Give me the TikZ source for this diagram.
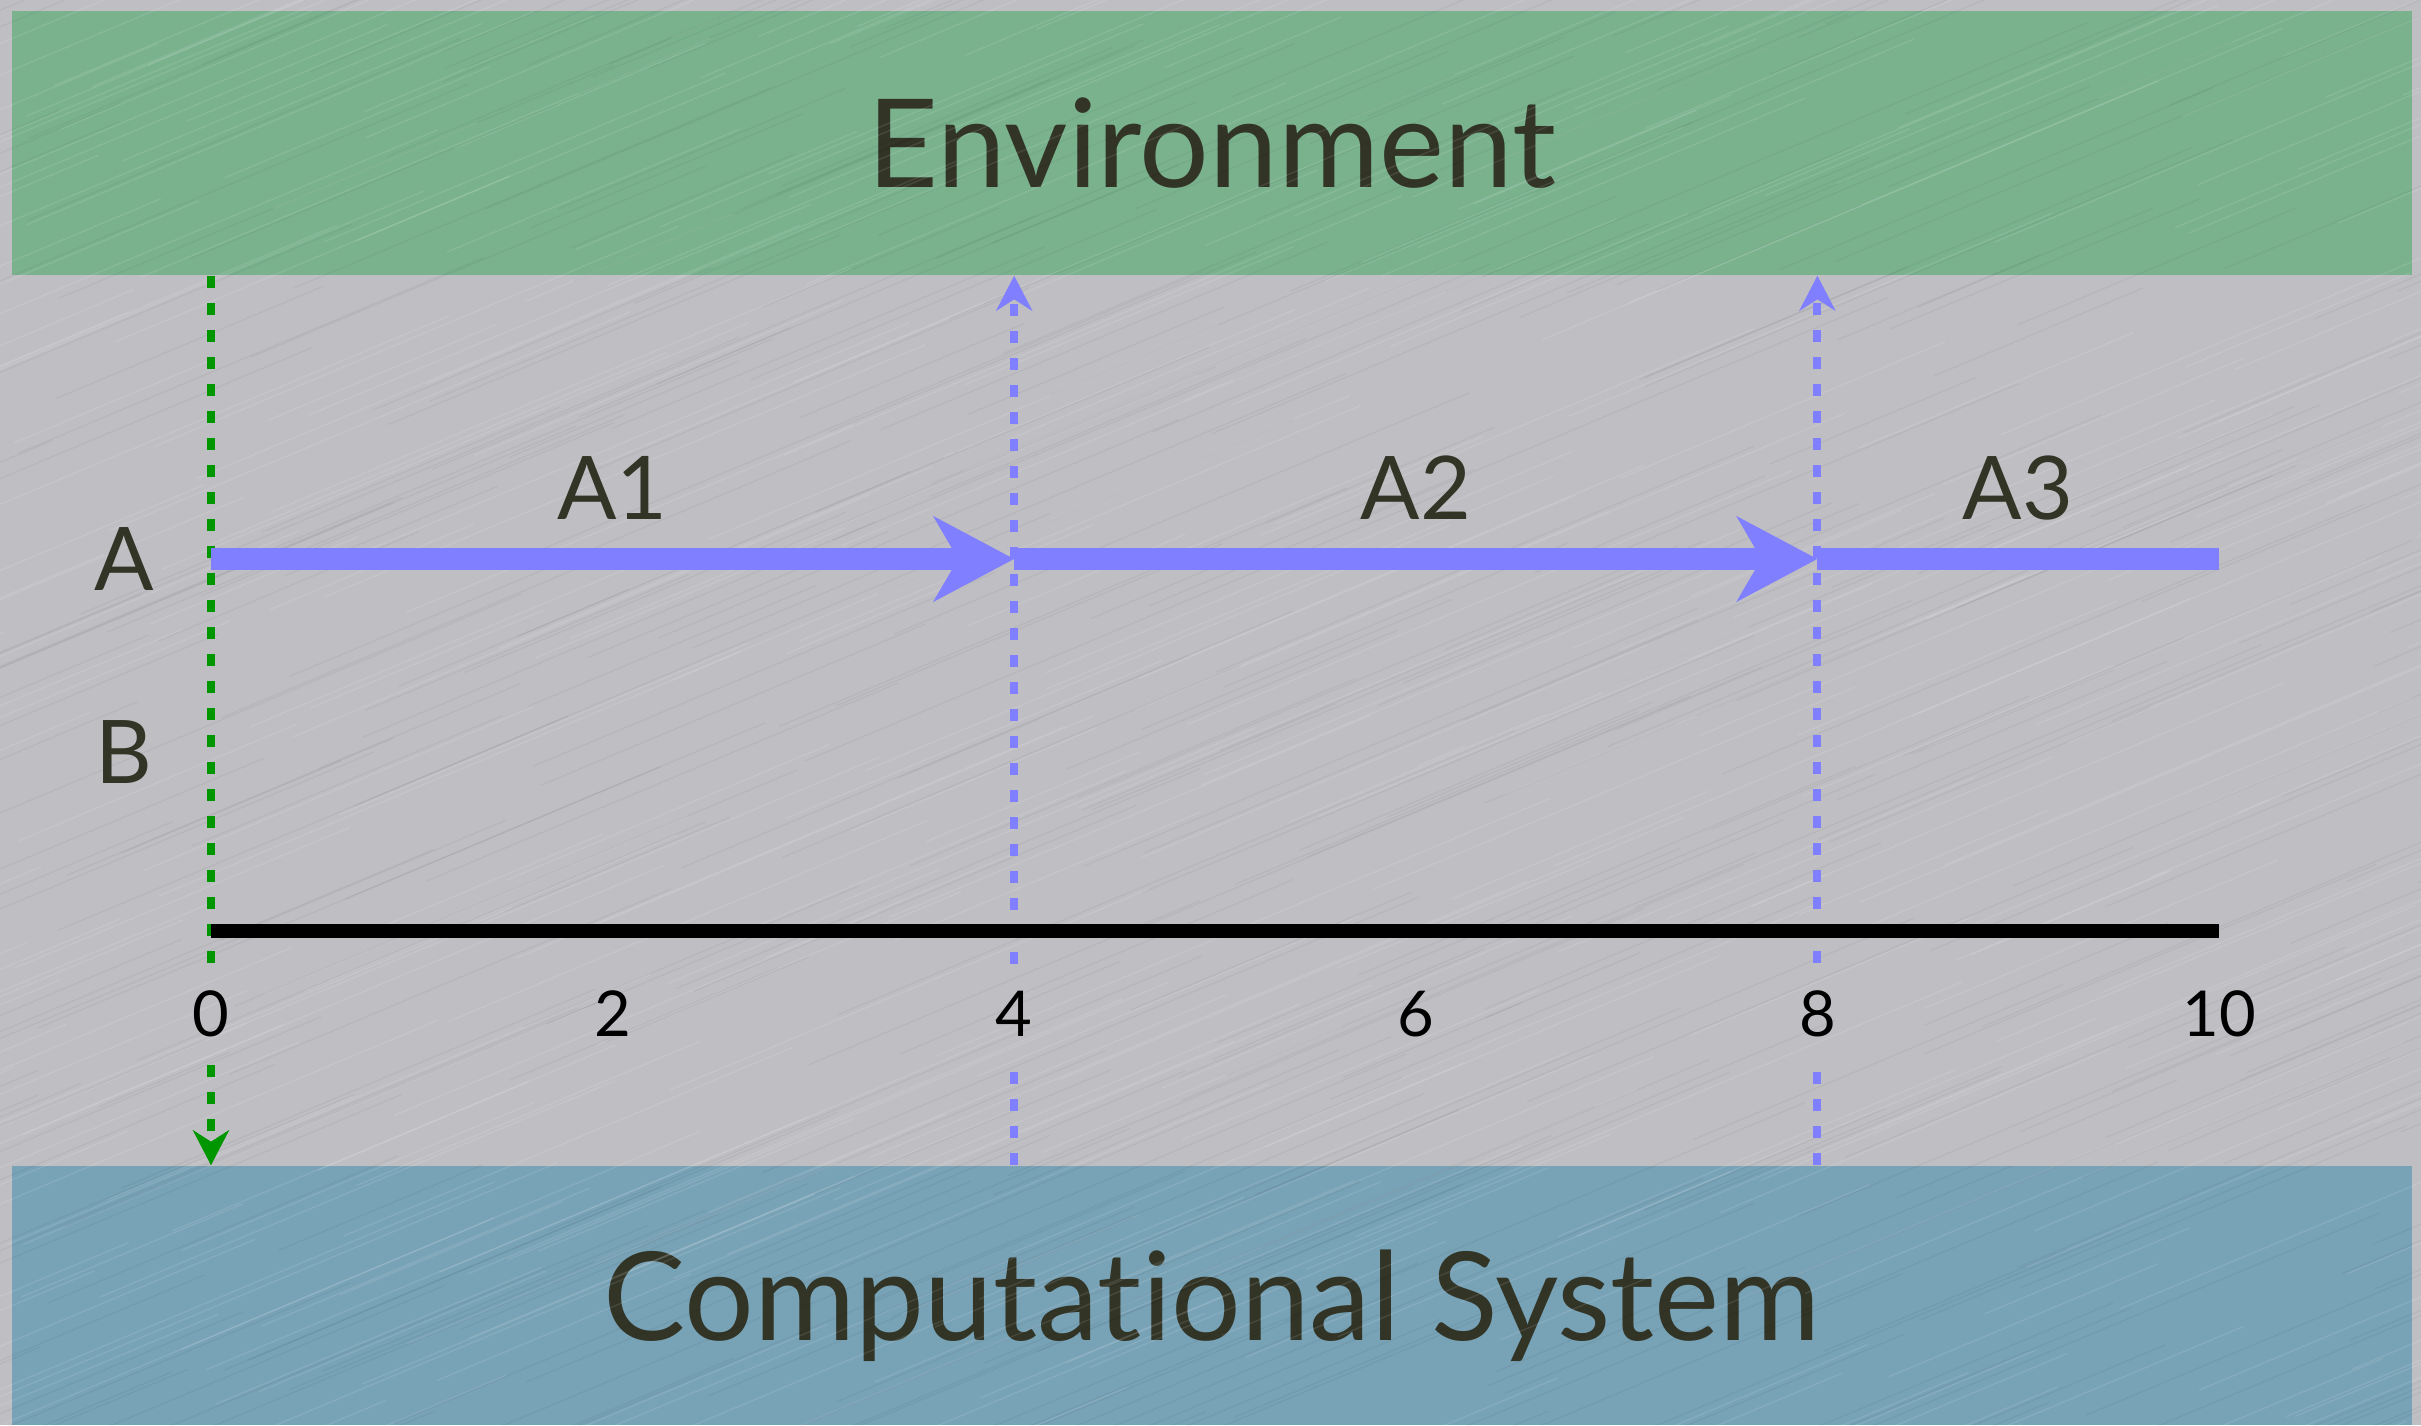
\documentclass[tikz,border=0pt]{standalone}
\usepackage{fontspec}
\setmainfont{Lato}[Ligatures={NoCommon,NoRare,NoContextual}]
\usetikzlibrary{arrows.meta, positioning, calc}

\definecolor{bgsilver}{RGB}{191,190,195}
\definecolor{envgreen}{RGB}{122,178,142}
\definecolor{sysblue}{RGB}{120,162,182}
\definecolor{inkdark}{RGB}{50,52,38}
\definecolor{actblue}{RGB}{127,127,255}
\definecolor{trigreen}{RGB}{0,150,0}

\begin{document}
\begin{tikzpicture}[
  band/.style={fill=#1, minimum width=24cm, inner sep=0pt, text depth=0pt,
               text=inkdark, font=\fontsize{35}{40}\selectfont},
  rowlbl/.style={text=inkdark, font=\fontsize{25}{30}\selectfont},
  tick/.style={text=black, font=\fontsize{18}{22}\selectfont, inner sep=0.27cm},
  act/.style={-{Stealth[length=8mm,width=8.4mm,inset=2.4mm]}, actblue, line width=6pt},
  sig/.style={-{Stealth[length=3.5mm,width=3.6mm]}, line width=2.3pt,
              dash pattern=on 0.12cm off 0.15cm},
  axis/.style={line width=4pt, black},
]
\useasboundingbox (0,0) rectangle (24.21,14.25);
\fill[bgsilver] (0,0) rectangle (24.21,14.25);

% --- environment and system bands ---
\node[band=envgreen, minimum height=2.64cm] (env) at (12.12,12.82) {Environment};
\node[band=sysblue, minimum height=2.59cm]  (sys) at (12.12,1.295) {Computational System};

% --- brushed look ---
\begin{scope}
  \clip (0,0) rectangle (24.21,14.25);
  \pgfmathsetseed{11}
  \foreach \i in {1,...,420} {
    \pgfmathsetmacro\xa{rnd*30-4}
    \pgfmathsetmacro\ya{rnd*16-2}
    \pgfmathsetmacro\ln{2+rnd*5}
    \draw[white, opacity=0.10, line width=0.4pt] (\xa,\ya) -- ++(\ln,0.42*\ln);
    \pgfmathsetmacro\xb{rnd*30-4}
    \pgfmathsetmacro\yb{rnd*16-2}
    \draw[black, opacity=0.04, line width=0.4pt] (\xb,\yb) -- ++(\ln,0.42*\ln);
  }
\end{scope}

% --- rows ---
\node[rowlbl] (rowA) at (1.24,8.66) {A};
\node[rowlbl] (rowB) at (1.24,6.73) {B};

% --- time axis ---
\foreach \t in {0,2,...,10}
  \node[tick] (t\t) at ({2.11+2.008*\t},4.11) {\t};
\coordinate (x0) at (t0 |- 0,4.94);
\coordinate (x10) at (t10 |- 0,4.94);

% --- triggers ---
\draw[sig, trigreen, -] (env.south -| t0) -- (t0.north);
\draw[sig, trigreen] (t0.south) -- (t0 |- sys.north);
\foreach \t in {4,8} {
  \draw[sig, actblue] (t\t.north) -- (t\t |- env.south);
  \draw[sig, actblue, -] (t\t |- sys.north) -- (t\t.south);
}

\draw[axis] (x0) -- (x10);

% --- actions of A ---
\foreach \t in {0,4,8,10}
  \coordinate (a\t) at (t\t |- 0,8.66);
\draw[act] (a0) -- (a4);
\draw[act] (a4) -- (a8);
\draw[act, -] (a8) -- (a10);
\node[rowlbl] (lA1) at ($(a0)!0.5!(a4)+(0,0.71)$) {A1};
\node[rowlbl] (lA2) at ($(a4)!0.5!(a8)+(0,0.71)$) {A2};
\node[rowlbl] (lA3) at ($(a8)!0.5!(a10)+(0,0.71)$) {A3};
\end{tikzpicture}
\end{document}
